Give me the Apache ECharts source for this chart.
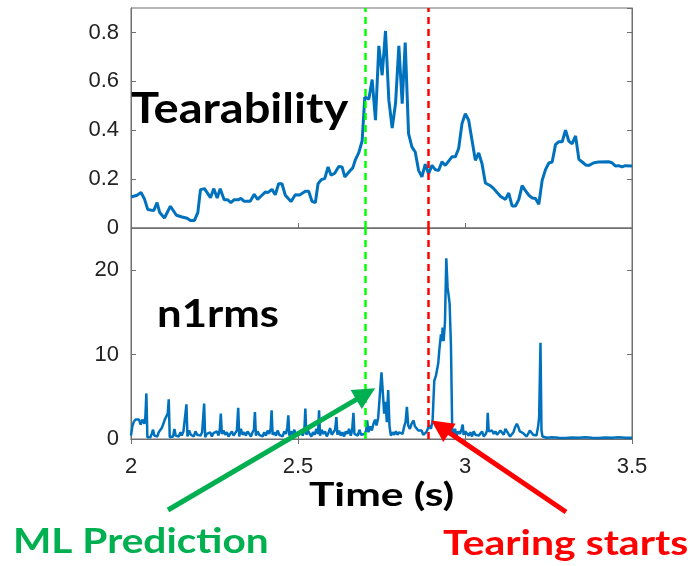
<!DOCTYPE html>
<html>
<head>
<meta charset="utf-8">
<script src="https://cdn.jsdelivr.net/npm/echarts@6/dist/echarts.min.js"></script>
<style>
html,body{margin:0;padding:0;background:#fff;}
#chart{width:690px;height:566px;}
</style>
</head>
<body>
<div id="chart"></div>
<script>
// ---- Data ----
var tearTime = [2.000,2.018,2.030,2.040,2.050,2.068,2.078,2.086,2.100,2.118,2.136,2.153,2.168,2.178,2.190,2.200,2.208,2.220,2.238,2.248,2.258,2.267,2.279,2.289,2.299,2.309,2.322,2.329,2.339,2.357,2.369,2.379,2.392,2.402,2.410,2.422,2.432,2.442,2.452,2.462,2.479,2.492,2.505,2.522,2.532,2.542,2.552,2.560,2.570,2.580,2.590,2.599,2.610,2.622,2.632,2.640,2.657,2.664,2.672,2.682,2.692,2.700,2.712,2.722,2.732,2.742,2.752,2.762,2.772,2.782,2.792,2.802,2.812,2.821,2.831,2.841,2.851,2.861,2.871,2.881,2.891,2.901,2.911,2.921,2.931,2.941,2.961,2.971,2.981,2.991,3.001,3.011,3.021,3.031,3.041,3.051,3.061,3.076,3.086,3.096,3.106,3.121,3.131,3.141,3.151,3.161,3.171,3.181,3.191,3.201,3.211,3.221,3.231,3.241,3.251,3.261,3.271,3.281,3.291,3.301,3.311,3.321,3.331,3.341,3.351,3.361,3.371,3.386,3.400,3.430,3.440,3.450,3.460,3.470,3.480,3.500];
var tearValue = [0.127,0.134,0.145,0.120,0.076,0.071,0.104,0.063,0.041,0.089,0.052,0.045,0.040,0.031,0.031,0.063,0.157,0.161,0.124,0.161,0.123,0.161,0.116,0.116,0.104,0.116,0.116,0.121,0.109,0.109,0.138,0.117,0.134,0.147,0.145,0.158,0.136,0.181,0.181,0.134,0.108,0.136,0.135,0.150,0.150,0.109,0.104,0.181,0.198,0.202,0.250,0.216,0.224,0.252,0.250,0.209,0.236,0.246,0.280,0.308,0.356,0.536,0.527,0.607,0.441,0.745,0.625,0.806,0.523,0.409,0.509,0.745,0.509,0.759,0.386,0.332,0.311,0.236,0.209,0.261,0.222,0.256,0.239,0.235,0.271,0.256,0.291,0.291,0.325,0.427,0.468,0.441,0.359,0.277,0.307,0.263,0.184,0.173,0.161,0.145,0.130,0.117,0.143,0.090,0.090,0.116,0.173,0.153,0.134,0.123,0.121,0.097,0.195,0.239,0.266,0.270,0.341,0.353,0.353,0.400,0.355,0.345,0.377,0.281,0.270,0.258,0.256,0.267,0.270,0.271,0.267,0.254,0.255,0.250,0.255,0.254];

var n1Time = [2.000,2.004,2.008,2.013,2.018,2.024,2.029,2.034,2.040,2.043,2.046,2.049,2.054,2.058,2.062,2.066,2.070,2.074,2.079,2.083,2.088,2.092,2.097,2.101,2.106,2.110,2.113,2.116,2.121,2.126,2.130,2.134,2.139,2.143,2.148,2.152,2.157,2.162,2.166,2.169,2.174,2.179,2.184,2.188,2.193,2.198,2.203,2.208,2.213,2.216,2.219,2.222,2.227,2.232,2.237,2.242,2.247,2.252,2.257,2.262,2.266,2.269,2.272,2.277,2.282,2.287,2.292,2.297,2.302,2.307,2.312,2.317,2.321,2.324,2.329,2.334,2.339,2.344,2.349,2.354,2.359,2.364,2.368,2.371,2.374,2.379,2.384,2.389,2.394,2.399,2.404,2.409,2.414,2.418,2.421,2.424,2.429,2.434,2.439,2.444,2.449,2.454,2.459,2.464,2.468,2.471,2.474,2.479,2.484,2.489,2.494,2.499,2.504,2.509,2.514,2.519,2.522,2.525,2.530,2.535,2.540,2.545,2.550,2.555,2.560,2.563,2.566,2.571,2.576,2.581,2.586,2.591,2.596,2.601,2.606,2.611,2.615,2.618,2.623,2.628,2.633,2.638,2.643,2.648,2.653,2.658,2.662,2.666,2.669,2.674,2.679,2.684,2.689,2.694,2.699,2.704,2.707,2.711,2.716,2.721,2.726,2.731,2.735,2.740,2.745,2.750,2.754,2.758,2.762,2.766,2.770,2.774,2.778,2.783,2.788,2.793,2.798,2.803,2.808,2.813,2.818,2.822,2.826,2.830,2.835,2.840,2.846,2.850,2.855,2.860,2.865,2.870,2.875,2.880,2.884,2.889,2.893,2.898,2.903,2.908,2.913,2.916,2.920,2.923,2.928,2.931,2.933,2.936,2.940,2.944,2.948,2.951,2.954,2.958,2.962,2.966,2.970,2.975,2.980,2.985,2.990,2.993,2.996,3.001,3.006,3.011,3.016,3.021,3.026,3.031,3.036,3.041,3.046,3.051,3.056,3.062,3.066,3.068,3.071,3.076,3.081,3.086,3.091,3.096,3.101,3.106,3.111,3.116,3.121,3.125,3.130,3.135,3.140,3.145,3.150,3.155,3.159,3.164,3.169,3.174,3.179,3.184,3.189,3.194,3.199,3.204,3.209,3.214,3.219,3.222,3.226,3.229,3.232,3.236,3.245,3.260,3.280,3.300,3.320,3.340,3.360,3.380,3.400,3.420,3.440,3.460,3.480,3.500];
var n1Value = [0.4,1.5,2.0,2.3,2.4,2.3,1.7,2.3,1.8,2.6,5.4,0.2,0.3,0.2,0.6,1.1,0.4,0.6,0.3,0.8,1.0,1.3,1.8,2.3,2.5,3.0,4.7,0.2,0.4,0.3,1.2,0.4,0.6,0.3,0.8,0.4,0.9,1.1,4.1,0.3,1.0,0.5,0.7,0.3,0.9,0.5,0.6,0.4,0.8,1.0,4.2,0.2,0.6,0.4,0.8,0.3,0.7,0.5,0.9,0.4,1.2,3.0,0.6,1.0,0.5,0.8,0.3,0.6,0.9,0.4,0.7,1.0,3.7,0.3,1.2,0.5,0.8,0.4,0.9,0.6,0.3,0.8,1.1,3.2,0.4,0.9,0.5,0.7,0.3,0.8,0.4,1.0,0.6,1.2,3.4,0.5,0.8,0.4,1.0,0.5,0.7,0.3,0.9,0.6,1.4,2.8,0.4,0.9,0.5,1.1,0.4,0.8,0.5,1.0,0.4,1.0,3.6,0.5,1.0,0.6,0.3,0.8,0.5,1.2,0.6,3.4,0.4,1.1,0.6,0.9,0.3,0.7,1.3,0.5,0.8,1.1,2.6,0.5,1.0,0.4,0.8,0.3,0.9,0.6,1.2,0.4,1.0,3.1,0.6,0.8,0.4,1.1,0.5,0.3,0.6,1.0,2.2,0.8,1.5,1.0,1.8,2.3,1.6,2.5,5.2,7.9,5.5,3.0,4.4,2.0,5.8,1.5,0.4,0.8,0.5,0.9,0.5,0.8,1.0,0.6,1.5,2.0,3.8,1.6,1.2,1.8,2.2,1.5,1.3,1.0,0.8,1.0,0.5,0.4,0.8,1.0,1.6,1.2,2.2,6.9,7.5,7.7,9.0,10.5,12.4,11.6,13.2,11.6,13.8,21.4,17.9,17.0,16.0,11.0,0.3,0.8,1.2,0.4,0.9,0.6,1.2,1.7,0.5,0.9,1.0,0.4,0.8,0.3,0.9,0.5,0.7,0.4,0.6,0.9,0.3,0.6,1.0,3.1,0.9,0.8,1.0,0.6,0.9,0.5,0.7,1.0,0.8,0.5,1.2,1.0,0.6,0.3,0.5,0.8,1.4,1.8,1.5,0.9,1.0,0.7,0.5,0.3,0.6,1.0,0.9,0.5,0.3,0.4,1.5,2.6,11.4,1.0,0.3,0.2,0.15,0.2,0.15,0.12,0.18,0.15,0.2,0.15,0.12,0.18,0.15,0.2,0.15,0.15];

var markerTimes = [2.70, 2.89];
var markerColors = ['#00ff00', '#ff0000'];
var xTicks = {min: 2, max: 3.5, interval: 0.5};
var topY = {min: 0, max: 0.9, interval: 0.2};
var botY = {min: 0, max: 25, interval: 10};

function pairs(xs, ys) { return xs.map(function (x, i) { return [x, ys[i]]; }); }

var frameColor = '#6f6f6f';
var labelFont = {fontSize: 22, color: '#222', fontFamily: 'Liberation Sans, Arial, sans-serif'};

function xAxisDef(grid, showLabel, pos) {
  return {
    type: 'value', gridIndex: grid, min: xTicks.min, max: xTicks.max, interval: xTicks.interval,
    position: pos,
    axisLine: {show: true, lineStyle: {color: frameColor, width: 1}},
    axisTick: {show: true, inside: true, length: 5, lineStyle: {color: frameColor}},
    axisLabel: Object.assign({show: showLabel, margin: 17, showMinLabel: true, showMaxLabel: true}, labelFont),
    splitLine: {show: false}
  };
}
function yAxisDef(grid, cfg, showLabel, pos) {
  return {
    type: 'value', gridIndex: grid, min: cfg.min, max: cfg.max, interval: cfg.interval,
    position: pos,
    axisLine: {show: true, lineStyle: {color: frameColor, width: 1}},
    axisTick: {show: true, inside: true, length: 5, lineStyle: {color: frameColor}},
    axisLabel: Object.assign({show: showLabel, margin: 12, showMaxLabel: false}, labelFont),
    splitLine: {show: false}
  };
}
function markLines() {
  return {
    silent: true, symbol: ['none', 'none'], label: {show: false},
    data: markerTimes.map(function (t, i) {
      return {xAxis: t, lineStyle: {color: markerColors[i], type: [7, 5], width: 2.5}};
    })
  };
}

var chart = echarts.init(document.getElementById('chart'));
chart.setOption({
  animation: false,
  grid: [
    {left: 131, right: 58, top: 8, height: 220, show: true, borderColor: frameColor, borderWidth: 1},
    {left: 131, right: 58, top: 228, height: 211, show: true, borderColor: frameColor, borderWidth: 1}
  ],
  xAxis: [xAxisDef(0, false, 'bottom'), xAxisDef(1, true, 'bottom'), xAxisDef(1, false, 'top')],
  yAxis: [yAxisDef(0, topY, true, 'left'), yAxisDef(0, topY, false, 'right'),
          yAxisDef(1, botY, true, 'left'), yAxisDef(1, botY, false, 'right')],
  series: [
    {type: 'line', xAxisIndex: 0, yAxisIndex: 0, data: pairs(tearTime, tearValue), showSymbol: false,
     lineStyle: {color: '#0072bd', width: 3}, markLine: markLines(), z: 3},
    {type: 'line', xAxisIndex: 1, yAxisIndex: 2, data: pairs(n1Time, n1Value), showSymbol: false,
     lineStyle: {color: '#0072bd', width: 2.5}, markLine: markLines(), z: 3}
  ]
});

function arrow(tail, tip, color, width, headLen, headHalf) {
  var dx = tip[0] - tail[0], dy = tip[1] - tail[1];
  var L = Math.sqrt(dx * dx + dy * dy); var ux = dx / L, uy = dy / L;
  var nx = -uy, ny = ux;
  var bx = tip[0] - ux * headLen, by = tip[1] - uy * headLen;
  return [
    {type: 'line', z: 100, shape: {x1: tail[0], y1: tail[1], x2: tip[0] - ux * headLen * 0.6, y2: tip[1] - uy * headLen * 0.6},
     style: {stroke: color, lineWidth: width}},
    {type: 'polygon', z: 100, shape: {points: [tip, [bx + nx * headHalf, by + ny * headHalf], [bx - nx * headHalf, by - ny * headHalf]]},
     style: {fill: color}}
  ];
}
function label(text, x, y, size, color, sx) {
  return {type: 'text', z: 101, x: x, y: y, scaleX: sx,
          style: {text: text, font: 'bold ' + size + 'px Lato, sans-serif', fill: color, verticalAlign: 'top', align: 'left'}};
}
var greenTip = chart.convertToPixel({xAxisIndex: 1, yAxisIndex: 2}, [2.731, 6.0]);
var redTip = chart.convertToPixel({xAxisIndex: 1, yAxisIndex: 2}, [2.899, 2.2]);
var gfx = [];
gfx = gfx.concat(arrow([168, 510], greenTip, '#00b050', 5, 22, 11));
gfx = gfx.concat(arrow([566, 512], redTip, '#ff0000', 5, 22, 11));
gfx.push(label('Tearability', 131, 88, 42, '#000', 1.12));
gfx.push(label('n1rms', 157, 295, 39, '#000', 1.12));
gfx.push(label('Time (s)', 309, 480, 32, '#000', 1.33));
gfx.push(label('ML Prediction', 13, 524, 35, '#00b050', 1.16));
gfx.push(label('Tearing starts', 443, 526, 35, '#ff0000', 1.17));
chart.setOption({graphic: gfx});
</script>
</body>
</html>
